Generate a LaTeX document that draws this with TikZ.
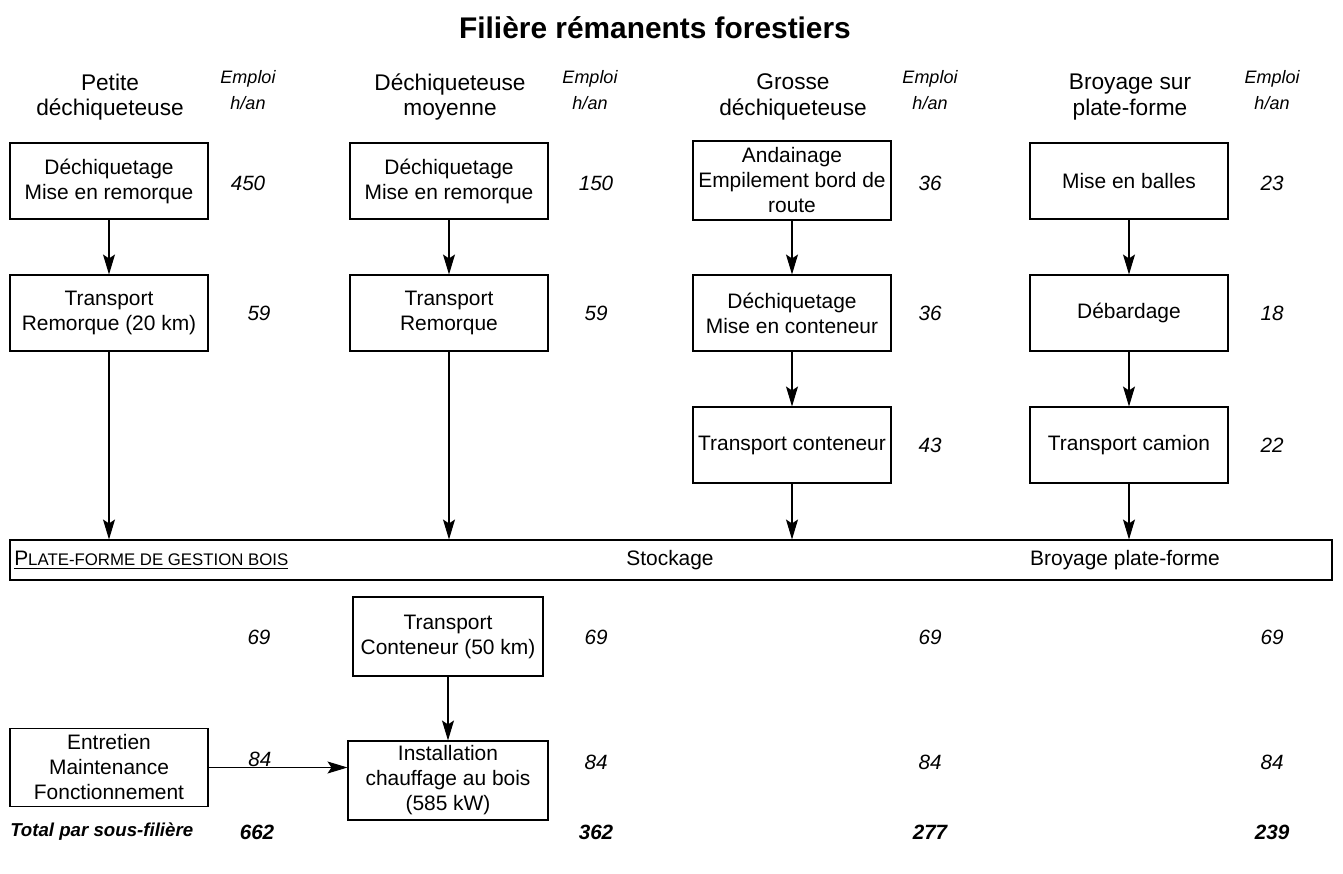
\documentclass[tikz,border=0pt]{standalone}
\usepackage{fontspec}
\setmainfont{Liberation Sans}
\usetikzlibrary{arrows.meta}
\begin{document}
\begin{tikzpicture}[x=0.75pt,y=-0.75pt,
  font=\fontsize{15.7}{18.75}\selectfont,
  box/.style={draw,line width=0.8pt,align=center,minimum width=148.5pt,minimum height=57pt,inner sep=1pt},
  num/.style={font=\fontsize{15.5}{18.75}\selectfont\itshape},
  head/.style={align=center,font=\fontsize{17}{19}\selectfont},
  emp/.style={align=center,font=\fontsize{13.5}{19.5}\selectfont\itshape},
  tot/.style={font=\fontsize{15.5}{18.75}\selectfont\bfseries\itshape},
  arr/.style={line width=0.8pt,-{Stealth[length=15pt,width=9pt,inset=3pt]}}]
\useasboundingbox (0,0) rectangle (1343,874);
\node[font=\fontsize{22.4}{26}\selectfont\bfseries] (title) at (655,28) {Filière rémanents forestiers};
% headers
\node[head] (h1) at (110,97) {Petite\\déchiqueteuse};
\node[emp] (e1) at (248,90) {Emploi\\h/an};
\node[head] (h2) at (450,97) {Déchiqueteuse\\moyenne};
\node[emp] (e2) at (590,90) {Emploi\\h/an};
\node[head] (h3) at (793,97) {Grosse\\déchiqueteuse};
\node[emp] (e3) at (930,90) {Emploi\\h/an};
\node[head] (h4) at (1130,97) {Broyage sur\\plate-forme};
\node[emp] (e4) at (1272,90) {Emploi\\h/an};
% row 1
\node[box] (a1) at (109,181) {Déchiquetage\\Mise en remorque};
\node[box] (b1) at (449,181) {Déchiquetage\\Mise en remorque};
\node[box,minimum height=59.25pt] (c1) at (792,180.5) {Andainage\\Empilement bord de\\route};
\node[box] (d1) at (1129,181) {Mise en balles};
\node[num] (n11) at (248,183) {450};
\node[num] (n12) at (596,183) {150};
\node[num] (n13) at (930,183) {36};
\node[num] (n14) at (1272,183) {23};
% row 2
\node[box] (a2) at (109,313) {Transport\\Remorque (20 km)};
\node[box] (b2) at (449,313) {Transport\\Remorque};
\node[box] (c2) at (792,313) {Déchiquetage\\Mise en conteneur};
\node[box] (d2) at (1129,313) {Débardage};
\node[num] (n21) at (259,313) {59};
\node[num] (n22) at (596,313) {59};
\node[num] (n23) at (930,313) {36};
\node[num] (n24) at (1272,313) {18};
% row 3
\node[box] (c3) at (792,445) {Transport conteneur};
\node[box] (d3) at (1129,445) {Transport camion};
\node[num] (n33) at (930,445) {43};
\node[num] (n34) at (1272,445) {22};
% platform
\node[draw,line width=0.8pt,minimum width=991.5pt,minimum height=30pt,inner sep=0pt] (pf) at (671,560) {};
\node[anchor=west,inner sep=0pt] (pft) at (14,560) {\underline{P{\fontsize{12.6}{14}\selectfont LATE-FORME DE GESTION BOIS}}};
\node (stock) at (670,560) {Stockage};
\node (broy) at (1125,560) {Broyage plate-forme};
% arrows
\draw[arr] (a1) -- (a2);
\draw[arr] (b1) -- (b2);
\draw[arr] (c1) -- (c2);
\draw[arr] (d1) -- (d2);
\draw[arr] (c2) -- (c3);
\draw[arr] (d2) -- (d3);
\draw[arr] (a2.south) -- (a2.south |- pf.north);
\draw[arr] (b2.south) -- (b2.south |- pf.north);
\draw[arr] (c3.south) -- (c3.south |- pf.north);
\draw[arr] (d3.south) -- (d3.south |- pf.north);
% lower part
\node[num] (n41) at (259,637) {69};
\node[num] (n42) at (596,637) {69};
\node[num] (n43) at (930,637) {69};
\node[num] (n44) at (1272,637) {69};
\node[box,minimum width=142.5pt,minimum height=59.25pt] (tc) at (448,636.5) {Transport\\Conteneur (50 km)};
\node[box,minimum width=150pt,minimum height=59.25pt] (inst) at (448,780.5) {Installation\\chauffage au bois\\(585 kW)};
\node[box,minimum height=58pt] (ent) at (109,767.5) {Entretien\\Maintenance\\Fonctionnement};
\draw[arr] (tc.south) -- (tc.south |- inst.north);
\draw[arr] (ent.east) -- (inst.west |- ent.east) node[pos=0.37,above=-3pt,num] (n51) {84};
\node[num] (n52) at (596,762) {84};
\node[num] (n53) at (930,762) {84};
\node[num] (n54) at (1272,762) {84};
% totals
\node[tot,anchor=west,inner sep=0pt,font=\fontsize{14}{16}\selectfont\bfseries\itshape] (tl) at (10,832) {Total par sous-filière};
\node[tot] (t1) at (257,832) {662};
\node[tot] (t2) at (596,832) {362};
\node[tot] (t3) at (930,832) {277};
\node[tot] (t4) at (1272,832) {239};
\end{tikzpicture}
\end{document}
